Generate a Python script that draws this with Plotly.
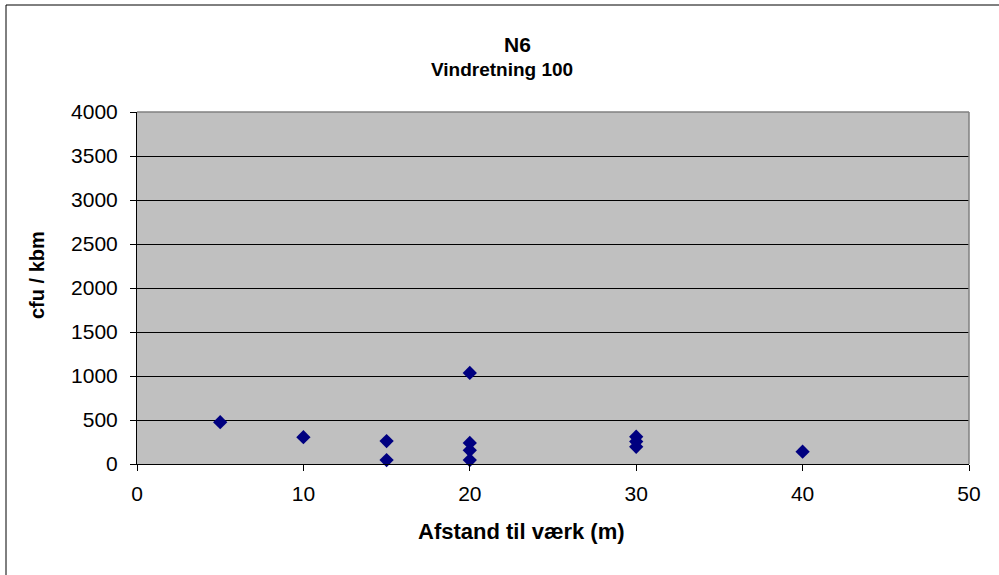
import plotly.graph_objects as go

# Measurements: distance from the plant (m) and colony counts (cfu per m3)
distance_m = [5, 10, 15, 15, 20, 20, 20, 20, 30, 30, 30, 40]
cfu_kbm = [475, 305, 260, 45, 1035, 240, 155, 45, 310, 255, 195, 140]

x_ticks = [0, 10, 20, 30, 40, 50]
y_ticks = [0, 500, 1000, 1500, 2000, 2500, 3000, 3500, 4000]

title_main = "N6"
title_sub = "Vindretning 100"
x_title = "Afstand til værk (m)"
y_title = "cfu / kbm"

W, H = 999, 575
L, R, T, B = 137, 30, 112, 111
pw, ph = W - L - R, H - T - B


def px_x(p):
    return (p - L) / pw


def px_y(p):
    return (H - B - p) / ph


FONT = "Liberation Sans, Arial, sans-serif"

fig = go.Figure()
fig.add_trace(go.Scatter(
    x=distance_m, y=cfu_kbm, mode="markers",
    marker=dict(symbol="diamond", size=11, color="#000080",
                line=dict(width=0)),
    showlegend=False, cliponaxis=False,
))

fig.update_layout(
    width=W, height=H,
    margin=dict(l=L, r=R, t=T, b=B, pad=0),
    paper_bgcolor="white",
    plot_bgcolor="#C0C0C0",
    font=dict(family=FONT, size=21, color="black"),
    showlegend=False,
)

fig.update_xaxes(
    range=[0, 50], tickvals=x_ticks, ticktext=[str(v) for v in x_ticks],
    showgrid=False, zeroline=False,
    showline=True, linecolor="black", linewidth=1,
    ticks="outside", ticklen=6, tickcolor="black", tickwidth=1,
    tickfont=dict(size=21, family=FONT), ticklabelstandoff=5,
)
fig.update_yaxes(
    range=[0, 4000], tickvals=y_ticks, ticktext=[str(v) for v in y_ticks],
    showgrid=True, gridcolor="black", gridwidth=1, zeroline=False,
    showline=True, linecolor="black", linewidth=1,
    ticks="outside", ticklen=6, tickcolor="black", tickwidth=1,
    tickfont=dict(size=21, family=FONT), ticklabelstandoff=8,
)

# gray frame on the top and right of the plot area
fig.add_shape(type="line", xref="paper", yref="paper", x0=0, x1=1, y0=1, y1=1,
              line=dict(color="#808080", width=1.5))
fig.add_shape(type="line", xref="paper", yref="paper", x0=1, x1=1, y0=0, y1=1,
              line=dict(color="#808080", width=1.5))

# chart-area border
fig.add_shape(type="rect", xref="paper", yref="paper",
              x0=px_x(6), x1=px_x(1010), y0=px_y(5), y1=px_y(590),
              line=dict(color="black", width=1), fillcolor="rgba(0,0,0,0)")

fig.add_annotation(text=f"<b>{title_main}</b>", xref="paper", yref="paper",
                   x=px_x(517), y=px_y(44), showarrow=False,
                   xanchor="center", yanchor="middle",
                   font=dict(size=21, family=FONT))
fig.add_annotation(text=f"<b>{title_sub}</b>", xref="paper", yref="paper",
                   x=px_x(502), y=px_y(70), showarrow=False,
                   xanchor="center", yanchor="middle",
                   font=dict(size=19, family=FONT))
fig.add_annotation(text=f"<b>{x_title}</b>", xref="paper", yref="paper",
                   x=px_x(521), y=px_y(531), showarrow=False,
                   xanchor="center", yanchor="middle",
                   font=dict(size=22, family=FONT))
fig.add_annotation(text=f"<b>{y_title}</b>", xref="paper", yref="paper",
                   x=px_x(37), y=px_y(275), showarrow=False, textangle=-90,
                   xanchor="center", yanchor="middle",
                   font=dict(size=20, family=FONT))

fig.write_html("out.html")
